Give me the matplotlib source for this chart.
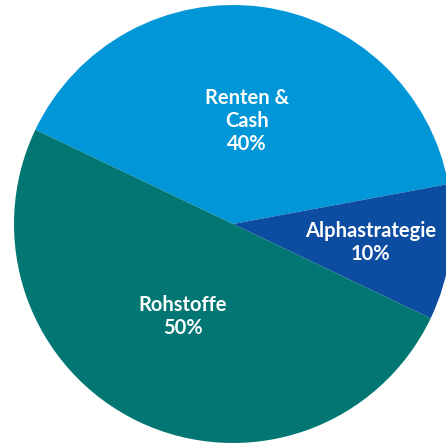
import numpy as np
import matplotlib.pyplot as plt

labels = ["Renten &\nCash", "Alphastrategie", "Rohstoffe"]
shares = [40, 10, 50]
colors = ["#0096D7", "#0D4DA1", "#017672"]
label_dist = [0.475, 0.635, 0.48]
label_turn = [0, 0, -3]

fig = plt.figure(figsize=(4.46, 4.43), dpi=100)
ax = fig.add_axes([0, 0, 1, 1])

r = 219.0
cx, cy = 233.0, 224.0
wedges, _ = ax.pie(shares, colors=colors, startangle=154.5, counterclock=False,
                   radius=1, wedgeprops=dict(linewidth=0))

for w, lab, val, d, t in zip(wedges, labels, shares, label_dist, label_turn):
    ang = np.deg2rad((w.theta1 + w.theta2) / 2 + t)
    ax.text(d * np.cos(ang), d * np.sin(ang), f"{lab}\n{val}%",
            ha="center", va="center", color="white", fontsize=14.5,
            fontweight="bold", family="Lato", linespacing=1.17)

ax.set_xlim(-cx / r, (446 - cx) / r)
ax.set_ylim(-(443 - cy) / r, cy / r)
ax.set_aspect("auto")
ax.axis("off")

fig.savefig("out.png", dpi=100)
